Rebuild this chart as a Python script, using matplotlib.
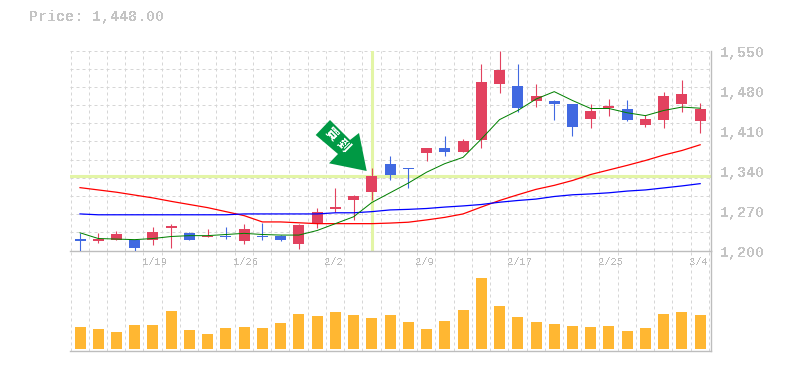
import matplotlib
matplotlib.use("Agg")
import matplotlib.pyplot as plt
from matplotlib.patches import Polygon
from matplotlib.transforms import Affine2D, ScaledTranslation

opens  = [1221,1216,1219,1219,1218,1239,1230,1224.5,1226,1216,1226,1225,1212,1249,1272,1289,1302,1351,1345,1370,1380,1372,1394,1491,1487,1461,1461,1457,1431,1449,1447,1419,1429,1456,1426]
highs  = [1231,1231,1235,1219,1242,1247,1233,1237,1242,1246,1249,1228,1247,1274,1309,1298,1344,1366,1345,1380,1400,1396,1527,1550,1527,1492,1464,1457,1456,1466,1464,1438,1478,1498,1459]
lows   = [1200,1214,1219,1200,1209,1204,1218,1224,1221,1212,1218,1216,1202,1239,1267,1254,1289,1324,1309,1356,1366,1372,1380,1475,1443,1452,1429,1400,1414,1435,1426,1417,1414,1442,1405]
closes = [1216,1221,1228,1205,1232,1242,1219,1226,1224,1237,1223,1219,1244,1267,1277,1296,1331,1333,1342,1379,1372,1391,1494,1515,1450,1471,1456,1417,1445,1452,1429,1431,1471,1473,1448]
ma_short = [1231,1221,1220,1219,1221,1224.5,1226,1226,1228,1230,1228,1227,1227,1235,1247,1259,1284,1301,1318,1337,1352,1363,1395,1429,1445,1465,1478,1462.5,1448.5,1448.5,1441,1436,1445,1451,1449]
ma_mid   = [1310,1306,1302,1297,1292,1286,1280.5,1275,1268,1261,1250,1250,1248.5,1247,1247,1247,1247,1248,1249.5,1253.5,1258,1264,1276,1287.5,1297.5,1307,1314,1322.5,1333,1341,1349,1357.5,1367,1375,1385]
ma_long  = [1264,1262.5,1262.5,1262.5,1262.5,1262.5,1262.5,1262.5,1262.5,1264,1264,1264,1264,1264,1266,1266,1268,1271,1272,1273.5,1276,1278,1280.5,1284.5,1287.5,1290,1294.5,1297.5,1299,1301,1304,1306,1309.5,1313,1317]
volumes  = [22,20,17,24,24,38,19,15,21,22,21,26,35,33,37,34,31,34,27,20,28,39,71,43,32,27,25,23,22,23,18,21,35,37,34]
y_ticks  = [1200,1270,1340,1410,1480,1550]
date_labels = {4:"1/19",9:"1/26",14:"2/2",19:"2/9",24:"2/17",29:"2/25",34:"3/4"}
signal_index = 16
signal_price = 1330
price_text = "Price: 1,448.00"

RED, BLUE = "#e2425f", "#4169e1"
GRID, AXIS, TXT = "#d6d6d6", "#bdbdbd", "#c4c4c4"
HL = "#e3f5a6"
MONO = "Liberation Mono"
PT = 0.72  # one pixel at dpi 100

W, H = 785, 370
plt.rcParams["text.antialiased"] = False
fig = plt.figure(figsize=(W/100, H/100), dpi=100, facecolor="white")
def rect(l, t, r, b):
    return [l/W, 1-b/H, (r-l)/W, (b-t)/H]
ax = fig.add_axes(rect(70, 50.5, 710.5, 250.5), zorder=2)
av = fig.add_axes(rect(70, 250.5, 710.5, 350.5), zorder=1, sharex=ax)
av.patch.set_visible(False)

n = len(closes)
x = list(range(n))
px = 18.24
x0 = 80.0
ax.set_xlim((70-x0)/px, (710.5-x0)/px)
ax.set_ylim(1200, 1550)
av.set_ylim(-2, 98)

edges = [i-9.5/px for i in range(n+1)]
ax.set_xticks(edges, labels=[date_labels.get(i, "") for i in range(n+1)])
ax.tick_params(axis="x", length=0, pad=5)
av.tick_params(axis="x", length=0, labelbottom=False)
av.set_yticks([])
ax.yaxis.remove_overlapping_locs = False
ax.set_yticks([1200+i*350/11 for i in range(12)], minor=True)
ax.set_yticks(y_ticks, labels=[f"{v:,}" for v in y_ticks])
ax.yaxis.tick_right()
ax.tick_params(axis="y", which="both", length=0)
ax.tick_params(axis="y", which="major", pad=7, labelsize=10.8, labelcolor=TXT)
ax.tick_params(axis="y", which="minor", labelright=False)

def px_shift(dx, dy):
    return ScaledTranslation(dx*PT/72, dy*PT/72, fig.dpi_scale_trans)
for lab in ax.get_xticklabels():
    lab.set_ha("left")
    lab.set_fontsize(7.6)
    lab.set_family(MONO)
    lab.set_color("#bbbbbb")
    lab.set_transform(lab.get_transform() + px_shift(-1.5, 0))
for lab in ax.get_yticklabels():
    lab.set_family(MONO)
    lab.set_fontweight("bold")
    lab.set_transform(lab.get_transform() + px_shift(0, -1.5))

gridkw = dict(color=GRID, lw=PT, dashes=(3, 3))
ax.grid(False)
ax.grid(True, which="minor", axis="y", **gridkw)
ax.grid(True, which="major", axis="x", **gridkw)
av.grid(True, which="major", axis="x", **gridkw)
ax.set_axisbelow(True); av.set_axisbelow(True)

for a in (ax, av):
    for s in a.spines.values():
        s.set_visible(False)
    for side in ("right", "bottom"):
        a.spines[side].set_visible(True)
        a.spines[side].set_color(AXIS)
        a.spines[side].set_linewidth(1.0)

ax.axvline(signal_index, color=HL, lw=2.2, zorder=1.5)
ax.axhline(signal_price, color=HL, lw=2.2, zorder=1.5)

w = 11/px
for i in x:
    c = RED if closes[i] >= opens[i] else BLUE
    ax.vlines(i, lows[i], highs[i], color=c, lw=PT*1.1, zorder=3)
    lo, hi = min(opens[i], closes[i]), max(opens[i], closes[i])
    ax.bar(i, hi-lo, bottom=lo, width=w, color=c, lw=0, zorder=3)

ax.plot(x, ma_mid, color="#ff0000", lw=0.9, zorder=4)
ax.plot(x, ma_long, color="#0000ff", lw=0.9, zorder=4)
ax.plot(x, ma_short, color="#008000", lw=0.72, zorder=5)

av.bar(x, volumes, width=w, color="#ffb732", lw=0, zorder=3)

# signal arrow, drawn in figure pixels (origin top left)
pix = Affine2D().scale(1, -1).translate(0, H)
arrow_pts = [(330,120),(350,140),(359,133),(366.7,171),(329,163.3),(338,154),(315.7,135)]
fig.add_artist(Polygon(arrow_pts, closed=True, transform=pix, facecolor="#009944", edgecolor="none", zorder=6))
for (tx, ty, ch) in [(331, 134.5, "買"), (343, 146.5, "到")]:
    fig.text(tx/W, 1-ty/H, ch, rotation=-45, ha="center", va="center", color="white",
             fontsize=9, fontweight="bold", family="Noto Sans CJK SC", zorder=7)

fig.text(29/W, 1-17.5/H, price_text, family=MONO, fontweight="bold", fontsize=10.8, color=TXT, ha="left", va="center")

fig.savefig("out.png", dpi=100)
